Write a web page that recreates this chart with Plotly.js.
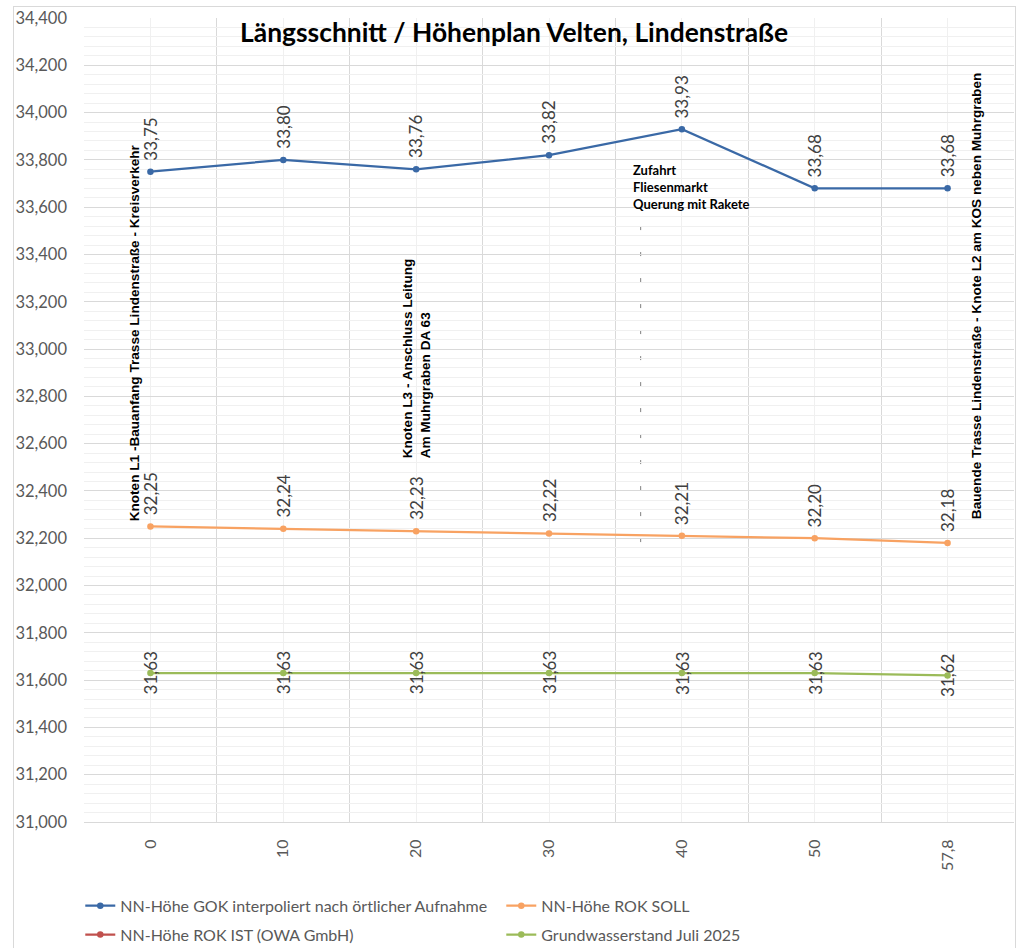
<!DOCTYPE html>
<html>
<head>
<meta charset="utf-8">
<script src="https://cdn.plot.ly/plotly-3.0.1.min.js"></script>
<style>
  html, body { margin: 0; padding: 0; background: #ffffff; }
  #wrap { position: relative; width: 1016px; height: 948px; overflow: hidden; }
  #chart { position: absolute; left: 0; top: 0; width: 1016px; height: 948px; }
  #frame { position: absolute; left: 13px; top: 6px; width: 1001px; height: 960px; border: 1px solid #d9d9d9; pointer-events: none; }
</style>
</head>
<body>
<div id="wrap">
  <div id="chart"></div>
  <div id="frame"></div>
</div>
<script>
// ---- data ----
const stations = [0, 10, 20, 30, 40, 50, 57.8];
const gokValues = [33.75, 33.80, 33.76, 33.82, 33.93, 33.68, 33.68];
const rokSollValues = [32.25, 32.24, 32.23, 32.22, 32.21, 32.20, 32.18];
const rokIstValues = [null, null, null, null, null, null, null];
const grundwasserValues = [31.63, 31.63, 31.63, 31.63, 31.63, 31.63, 31.62];

const seriesNames = [
  "NN-Höhe GOK interpoliert nach örtlicher Aufnahme",
  "NN-Höhe ROK SOLL",
  "NN-Höhe ROK IST (OWA GmbH)",
  "Grundwasserstand Juli 2025"
];
const seriesColors = ["#3a69a6", "#f8a262", "#c0504d", "#9bbb59"];
const seriesLegend = ["legend", "legend", "legend2", "legend2"];

const titleText = "Längsschnitt / Höhenplan Velten, Lindenstraße";
const noteStart = "Knoten L1 -Bauanfang Trasse Lindenstraße - Kreisverkehr";
const noteL3 = "Knoten L3 - Anschluss Leitung<br>Am Muhrgraben DA 63";
const noteZufahrt = "Zufahrt<br>Fliesenmarkt<br>Querung mit Rakete";
const noteEnd = "Bauende Trasse Lindenstraße - Knote L2 am KOS neben Muhrgraben";

// ---- helpers ----
const idx = stations.map((_, i) => i);
const tickText = stations.map(s => String(s).replace('.', ','));
const fmt2 = v => v.toFixed(2).replace('.', ',');
const bold = s => s.split('<br>').map(p => '<b>' + p + '</b>').join('<br>');

function lineTrace(vals, k) {
  return {
    type: 'scatter', mode: 'lines+markers',
    x: idx, y: vals, name: seriesNames[k], legend: seriesLegend[k],
    line: { color: seriesColors[k], width: 2.25 },
    marker: { color: seriesColors[k], size: 6.5, symbol: 'circle' },
    hoverinfo: 'skip'
  };
}

const traces = [
  lineTrace(gokValues, 0),
  lineTrace(rokSollValues, 1),
  lineTrace(rokIstValues, 2),
  lineTrace(grundwasserValues, 3)
];

const labelFont = { family: 'Lato, "Open Sans", sans-serif', size: 17, color: '#404040' };
const annotations = [];
function addLabels(vals, anchor, shift) {
  vals.forEach((v, i) => {
    if (v === null) return;
    annotations.push({
      x: i, y: v, xref: 'x', yref: 'y', text: fmt2(v), showarrow: false,
      textangle: -90, font: labelFont, xanchor: 'center', yanchor: anchor, yshift: shift
    });
  });
}
addLabels(gokValues, 'bottom', 9);
addLabels(rokSollValues, 'bottom', 9);
addLabels(grundwasserValues, 'middle', 0);

const noteFont = { family: '"Liberation Sans", Arial, sans-serif', size: 13.6, color: '#000000' };
annotations.push({
  x: 0, y: rokSollValues[0], xref: 'x', yref: 'y', text: bold(noteStart),
  showarrow: false, textangle: -90, font: noteFont, xanchor: 'center', yanchor: 'bottom',
  xshift: -16, yshift: 3
});
annotations.push({
  x: 2, y: 32.53, xref: 'x', yref: 'y', text: bold(noteL3),
  showarrow: false, textangle: -90, align: 'left', font: noteFont, xanchor: 'center', yanchor: 'bottom'
});
annotations.push({
  x: 6, y: 33.222, xref: 'x', yref: 'y', text: bold(noteEnd),
  showarrow: false, textangle: -90, font: noteFont, xanchor: 'center', yanchor: 'middle', xshift: 29
});
annotations.push({
  x: 3.617, y: 33.80, xref: 'x', yref: 'y', text: bold(noteZufahrt),
  showarrow: false, align: 'left', xanchor: 'left', yanchor: 'top',
  font: { family: 'Lato, sans-serif', size: 13, color: '#000000' }
});

const markerLineX = 3.69;
const legendFont = { family: 'Lato, "Open Sans", sans-serif', size: 16, color: '#595959' };

const layout = {
  width: 1016, height: 948,
  margin: { l: 84, r: 2, t: 18, b: 126, autoexpand: false },
  paper_bgcolor: '#ffffff', plot_bgcolor: '#ffffff',
  separators: ',.',
  font: { family: 'Lato, "Open Sans", sans-serif', color: '#595959', size: 16 },
  title: {
    text: '<b>' + titleText + '</b>',
    font: { family: 'Lato, "Open Sans", sans-serif', size: 26.4, color: '#000000' },
    x: 0.506, xanchor: 'center', xref: 'container', y: 0.965, yanchor: 'middle', yref: 'container'
  },
  showlegend: true,
  legend: {
    orientation: 'h', x: -0.004, xanchor: 'left', y: -0.083, yanchor: 'top',
    entrywidth: 376, entrywidthmode: 'pixels', font: legendFont,
    bgcolor: 'rgba(0,0,0,0)', traceorder: 'normal'
  },
  legend2: {
    orientation: 'h', x: -0.004, xanchor: 'left', y: -0.119, yanchor: 'top',
    entrywidth: 376, entrywidthmode: 'pixels', font: legendFont,
    bgcolor: 'rgba(0,0,0,0)', traceorder: 'normal'
  },
  xaxis: {
    range: [-0.5, 6.5], tickmode: 'array', tickvals: idx, ticktext: tickText,
    tickangle: -90, ticks: '', showgrid: true, gridcolor: '#f0f0f0', gridwidth: 1,
    minor: { tickmode: 'array', tickvals: [-0.5, 0.5, 1.5, 2.5, 3.5, 4.5, 5.5, 6.5], showgrid: true, gridcolor: '#d9d9d9', gridwidth: 1, ticks: '' },
    showline: true, linecolor: '#d9d9d9', linewidth: 1, zeroline: false,
    tickfont: { family: 'Lato, "Open Sans", sans-serif', size: 16, color: '#595959' },
    ticklabelstandoff: 10, fixedrange: true, automargin: false
  },
  yaxis: {
    range: [31.0, 34.4], tickmode: 'linear', tick0: 31.0, dtick: 0.2, tickformat: ',.3f',
    showgrid: true, gridcolor: '#d9d9d9', gridwidth: 1,
    minor: { dtick: 0.04, tick0: 31.0, showgrid: true, gridcolor: '#f0f0f0', gridwidth: 1, ticks: '' },
    ticks: '', showline: false, zeroline: false,
    tickfont: { family: 'Lato, "Open Sans", sans-serif', size: 16.5, color: '#595959' },
    ticklabelstandoff: 16, fixedrange: true, automargin: false
  },
  shapes: [{
    type: 'line', xref: 'x', yref: 'y', x0: markerLineX, x1: markerLineX, y0: 33.52, y1: 32.12,
    line: { color: '#7f7f7f', width: 1, dash: '4px,22px' }, layer: 'below'
  }],
  annotations: annotations
};

Plotly.newPlot('chart', traces, layout, { displayModeBar: false, staticPlot: true });
</script>
</body>
</html>
